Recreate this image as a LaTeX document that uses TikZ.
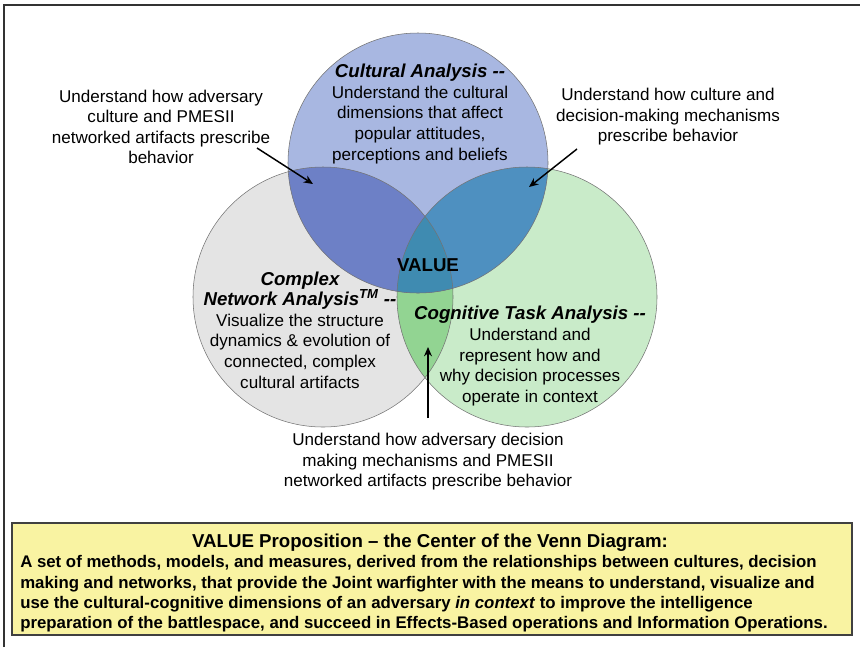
\documentclass[tikz,border=0pt]{standalone}
\usepackage{fontspec}
\setmainfont{Liberation Sans}
\usetikzlibrary{arrows.meta}
\definecolor{netgray}{HTML}{E4E4E4}
\definecolor{coggreen}{HTML}{C9EBC9}
\definecolor{cultblue}{HTML}{A8B7E1}
\definecolor{cultnet}{HTML}{6D80C6}
\definecolor{cultcog}{HTML}{4E90C0}
\definecolor{netcog}{HTML}{92D492}
\definecolor{valuec}{HTML}{3F8BB1}
\definecolor{propyellow}{HTML}{F9F3A2}
\newcommand\headtxt[1]{{\fontsize{14}{15.4}\selectfont\bfseries\itshape #1}}
\begin{document}
\begin{tikzpicture}[x=0.75pt,y=-0.75pt,
	every node/.style={inner sep=0,align=center},
	note/.style={font=\fontsize{12.8}{15.4}\selectfont},
	lap/.style={radius=97.5pt},
	rim/.style={draw=black!55,line width=0.4pt},
	ptr/.style={-{Stealth[length=7pt,width=6pt]},line width=1.1pt}]
\useasboundingbox (0,0) rectangle (860,647);
\draw[line width=2pt,black!80] (4,647) -- (4,5) -- (860,5);
% the three circles
\coordinate (cult) at (418,163);
\coordinate (net) at (323,297);
\coordinate (cog) at (527,297);
\fill[netgray] (net) circle[lap];
\fill[coggreen] (cog) circle[lap];
\begin{scope}
	\clip (net) circle[lap];
	\fill[netcog] (cog) circle[lap];
\end{scope}
\fill[cultblue] (cult) circle[lap];
\begin{scope}
	\clip (cult) circle[lap];
	\fill[cultnet] (net) circle[lap];
	\fill[cultcog] (cog) circle[lap];
	\clip (net) circle[lap];
	\fill[valuec] (cog) circle[lap];
\end{scope}
\draw[rim] (net) circle[lap] (cog) circle[lap] (cult) circle[lap];
% texts in the circles
\node (culttxt) [note] at (420,114) {\headtxt{Cultural Analysis -{}-}\\Understand the cultural\\dimensions that affect\\popular attitudes,\\perceptions and beliefs};
\node (value) [font=\fontsize{14}{15}\selectfont\bfseries] at (428,265) {VALUE};
\node (nettxt) [note] at (300,330) {\headtxt{Complex}\\\headtxt{Network Analysis\textsuperscript{TM} -{}-}\\Visualize the structure\\dynamics \& evolution of\\connected, complex\\cultural artifacts};
\node (cogtxt) [note] at (530,356) {\headtxt{Cognitive Task Analysis -{}-}\\Understand and\\represent how and\\why decision processes\\operate in context};
% notes round the diagram
\node (advcult) [note] at (161,127) {Understand how adversary\\culture and PMESII\\networked artifacts prescribe\\behavior};
\node (culdec) [note] at (668,117) {Understand how culture and\\decision-making mechanisms\\prescribe behavior};
\node (advdec) [note] at (428,462) {Understand how adversary decision\\making mechanisms and PMESII\\networked artifacts prescribe behavior};
\coordinate (p1) at (257,148);
\coordinate (t1) at (313,184);
\coordinate (p2) at (577,149);
\coordinate (t2) at (529,187);
\coordinate (p3) at (428,418);
\coordinate (t3) at (428,347);
\draw[ptr] (p1) -- (t1);
\draw[ptr] (p2) -- (t2);
\draw[ptr] (p3) -- (t3);
% value proposition box
\node (propbox) [draw=black!75,line width=0.8pt,fill=propyellow,minimum width=630pt,minimum height=84pt] at (432,579) {};
\node (proptitle) [font=\fontsize{14}{15}\selectfont\bfseries] at (430,543) {VALUE Proposition -- the Center of the Venn Diagram:};
\node (propbody) [anchor=west,align=left,font=\fontsize{12.6}{15.3}\selectfont\bfseries] at (20,594) {A set of methods, models, and measures, derived from the relationships between cultures, decision\\making and networks, that provide the Joint warfighter with the means to understand, visualize and\\use the cultural-cognitive dimensions of an adversary \textit{in context} to improve the intelligence\\preparation of the battlespace, and succeed in Effects-Based operations and Information Operations.};
\end{tikzpicture}
\end{document}
